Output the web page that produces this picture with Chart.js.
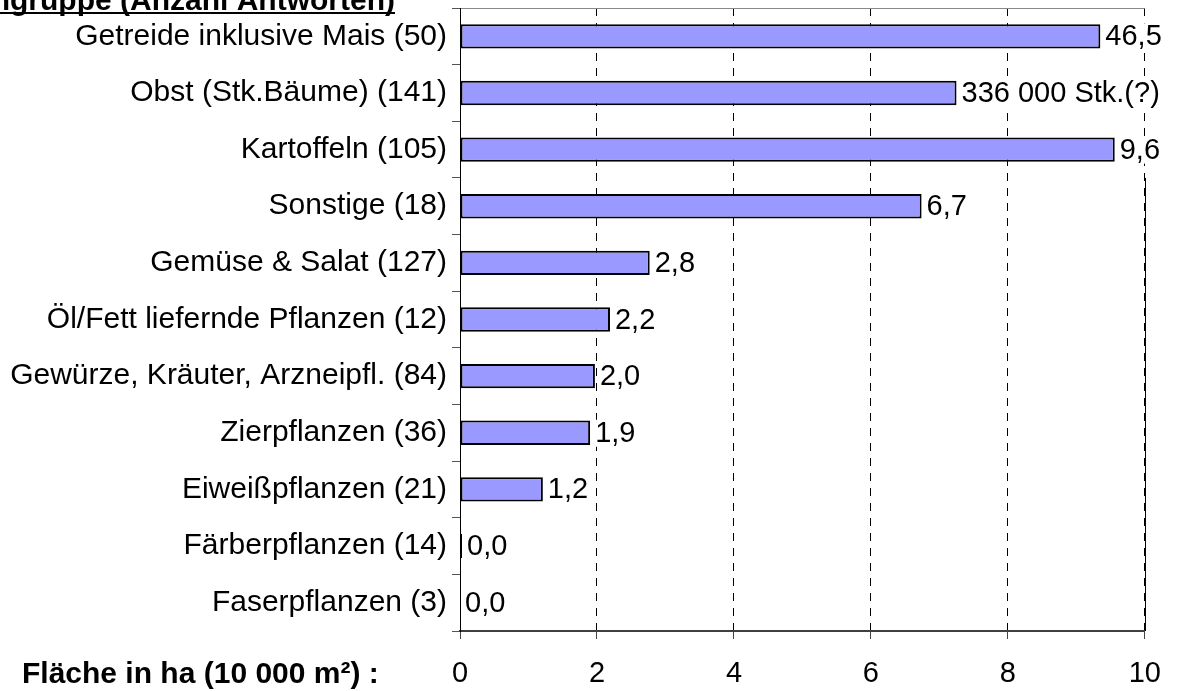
<!DOCTYPE html>
<html>
<head>
<meta charset="utf-8">
<script src="https://cdn.jsdelivr.net/npm/chart.js@4/dist/chart.umd.min.js"></script>
<style>
  html, body { margin: 0; padding: 0; background: #fff; }
  #wrap { width: 1179px; height: 691px; position: relative; }
</style>
</head>
<body>
<div id="wrap"><canvas id="chart"></canvas></div>
<script>
// Kulturen (Anzahl Antworten)
const categories = [
  'Getreide inklusive Mais (50)',
  'Obst (Stk.Bäume) (141)',
  'Kartoffeln (105)',
  'Sonstige (18)',
  'Gemüse & Salat (127)',
  'Öl/Fett liefernde Pflanzen (12)',
  'Gewürze, Kräuter, Arzneipfl. (84)',
  'Zierpflanzen (36)',
  'Eiweißpflanzen (21)',
  'Färberpflanzen (14)',
  'Faserpflanzen (3)'
];
// bar lengths as drawn (first two bars are cut / not in ha)
const barValues = [9.35, 7.25, 9.56, 6.74, 2.77, 2.19, 1.97, 1.9, 1.21, 0.03, 0];
// labels printed at the bar ends
const valueLabels = ['46,5', '336 000 Stk.(?)', '9,6', '6,7', '2,8', '2,2', '2,0', '1,9', '1,2', '0,0', '0,0'];
const xMin = 0, xMax = 10, xStep = 2;

const FONT = 'Liberation Sans';

const extras = {
  id: 'extras',
  afterDatasetsDraw(chart) {
    const ctx = chart.ctx;
    const meta = chart.getDatasetMeta(0);
    ctx.save();
    ctx.font = '29px "' + FONT + '"';
    ctx.textAlign = 'left';
    ctx.textBaseline = 'middle';
    meta.data.forEach(function(bar, i) {
      const tx = bar.x + 5;
      const tw = ctx.measureText(valueLabels[i]).width;
      // labels sit on an opaque box, grid lines do not show through
      ctx.fillStyle = '#fff';
      ctx.fillRect(tx - 1, bar.y - 13, tw + 2, 27);
      ctx.fillStyle = '#000';
      ctx.fillText(valueLabels[i], tx, bar.y + 1);
    });
    ctx.restore();
  },
  afterDraw(chart) {
    const ctx = chart.ctx;
    const area = chart.chartArea;
    const y = chart.scales.y;

    // solid right edge below the long labels
    ctx.save();
    ctx.strokeStyle = '#000';
    ctx.lineWidth = 1;
    ctx.beginPath();
    ctx.moveTo(Math.round(area.right) + 0.5, y.getPixelForValue(2.5));
    ctx.lineTo(Math.round(area.right) + 0.5, area.bottom);
    ctx.stroke();

    // title, cut at the left edge
    ctx.fillStyle = '#000';
    ctx.font = 'bold 30px "' + FONT + '"';
    ctx.textAlign = 'right';
    ctx.textBaseline = 'alphabetic';
    const title = 'ngruppe (Anzahl Antworten)';
    const w = ctx.measureText(title).width;
    ctx.fillText(title, 395, 10);
    ctx.fillRect(395 - w, 12, w, 2);

    // unit label left of the x ticks
    ctx.font = 'bold 30px "' + FONT + '"';
    ctx.textAlign = 'left';
    ctx.textBaseline = 'middle';
    ctx.fillText('Fläche in ha (10 000 m²) :', 22, 675);
    ctx.restore();
  }
};

new Chart(document.getElementById('chart'), {
  type: 'bar',
  data: {
    labels: categories,
    datasets: [{
      data: barValues,
      backgroundColor: '#9999FF',
      borderColor: '#000',
      borderWidth: 2,
      borderSkipped: false,
      barPercentage: 0.43,
      categoryPercentage: 1
    }]
  },
  options: {
    indexAxis: 'y',
    responsive: true,
    maintainAspectRatio: false,
    animation: false,
    devicePixelRatio: 1,
    layout: { padding: { left: 0, top: 8, right: 33, bottom: 0 } },
    plugins: {
      legend: { display: false },
      tooltip: { enabled: false }
    },
    scales: {
      x: {
        min: xMin,
        max: xMax,
        ticks: {
          stepSize: xStep,
          color: '#000',
          padding: 18,
          font: { family: FONT, size: 29 }
        },
        grid: {
          color: '#000',
          lineWidth: 1,
          tickLength: 8,
          tickColor: '#444'
        },
        border: { color: '#404040', width: 2, dash: [8, 7] },
        afterFit(scale) { scale.height = 60; }
      },
      y: {
        ticks: {
          color: '#000',
          padding: 5,
          font: { family: FONT, size: 30 }
        },
        grid: {
          color: function(ctx) { return ctx.index === 0 ? '#888' : 'rgba(0,0,0,0)'; },
          lineWidth: 1,
          tickLength: 8,
          tickColor: '#555'
        },
        border: { color: '#000', width: 1 },
        afterFit(scale) {
          scale.width = 460;
          scale.paddingTop = 0;
          scale.paddingBottom = 0;
        }
      }
    }
  },
  plugins: [extras]
});
</script>
</body>
</html>
